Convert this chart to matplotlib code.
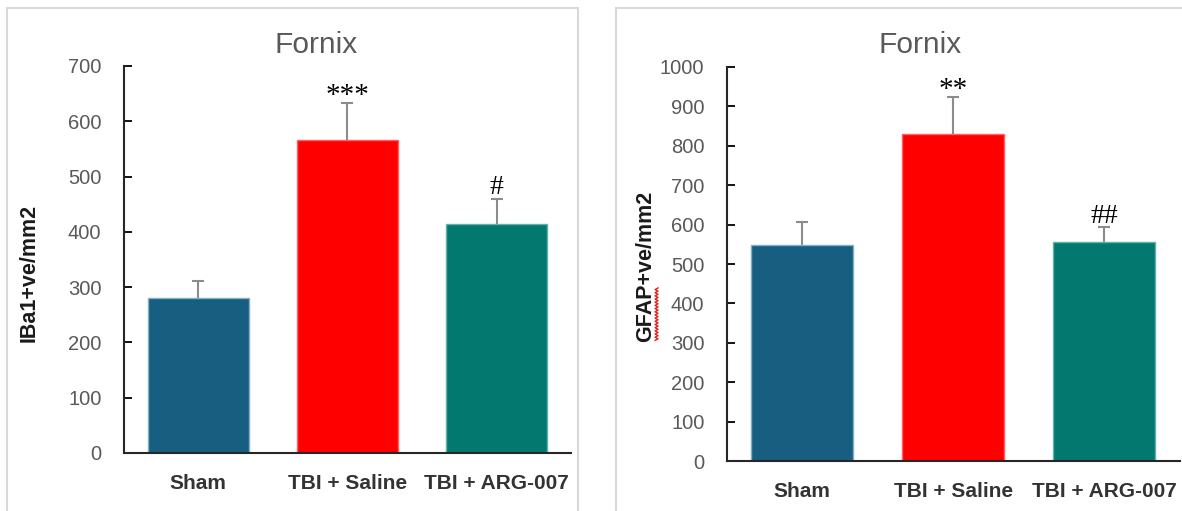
import numpy as np
import matplotlib
matplotlib.use("Agg")
import matplotlib.pyplot as plt
from matplotlib.patches import Rectangle

groups = ["Sham", "TBI + Saline", "TBI + ARG-007"]
bar_colors = ["#175e80", "#ff0000", "#03786e"]
edge_colors = ["#7fb0c8", "#ff6060", "#5fb3aa"]

iba1_mean = [281, 566, 414]
iba1_sem = [30, 67, 46]
iba1_marks = ["", "***", "#"]

gfap_mean = [547, 829, 556]
gfap_sem = [60, 94, 37]
gfap_marks = ["", "**", "##"]

plt.rcParams["font.family"] = ["Liberation Sans", "DejaVu Sans"]

W, H = 1182, 511
fig = plt.figure(figsize=(W / 100, H / 100), dpi=100)


def px_box(x0, y_top, x1, y_bot):
    # pixel box -> figure fraction [left, bottom, width, height]
    return [x0 / W, 1 - y_bot / H, (x1 - x0) / W, (y_bot - y_top) / H]


def draw_panel(ax, means, sems, marks, ymax, ylabel):
    x = np.arange(len(groups))
    ax.bar(x, means, width=0.68, color=bar_colors, edgecolor=edge_colors,
           linewidth=1, zorder=2)
    eb = ax.errorbar(x, means, yerr=[np.zeros(len(means)), sems], fmt="none",
                     ecolor="#8c8c8c", elinewidth=1.5, capsize=4.5,
                     capthick=1.5, zorder=1)
    eb[1][0].set_visible(False)
    for xi, m, s, lab in zip(x, means, sems, marks):
        if not lab:
            continue
        if "*" in lab:
            size, dy = 21, -4
        else:
            size, dy = 20, -1
        ax.annotate(lab, (xi, m + s), xytext=(0, dy), textcoords="offset points",
                    ha="center", va="bottom", fontsize=size,
                    family="Liberation Serif", color="black")
    ax.set_xlim(-0.5, 2.5)
    ax.set_ylim(0, ymax)
    ax.set_yticks(np.arange(0, ymax + 1, 100))
    ax.set_xticks(x)
    ax.set_xticklabels(groups, fontsize=15, fontweight="bold", color="#333333")
    ax.tick_params(axis="x", length=0, pad=15)
    ax.tick_params(axis="y", direction="in", length=6, width=1.3,
                   labelsize=14.5, labelcolor="#595959", pad=16)
    for side in ["top", "right"]:
        ax.spines[side].set_visible(False)
    for side in ["left", "bottom"]:
        ax.spines[side].set_linewidth(1.5)
        ax.spines[side].set_color("#262626")
    ax.set_ylabel(ylabel, fontsize=15.5, fontweight="bold", color="#1a1a1a")


ax1 = fig.add_axes(px_box(123.7, 66, 571.2, 452.8))
draw_panel(ax1, iba1_mean, iba1_sem, iba1_marks, 700, "IBa1+ve/mm2")
ax1.yaxis.set_label_coords(-0.187, 0.466)

ax2 = fig.add_axes(px_box(726.7, 66.7, 1179.5, 461.3))
draw_panel(ax2, gfap_mean, gfap_sem, gfap_marks, 1000, "GFAP+ve/mm2")
ax2.yaxis.set_label_coords(-0.156, 0.493)

fig.text(316 / W, 1 - 45 / H, "Fornix", ha="center", va="center",
         fontsize=21.5, color="#595959")
fig.text(920 / W, 1 - 45 / H, "Fornix", ha="center", va="center",
         fontsize=21.5, color="#595959")

# chart area frames
fig.add_artist(Rectangle((7 / W, -0.05), (578 - 7) / W, 1.05 - 8 / H,
                         transform=fig.transFigure, fill=False,
                         edgecolor="#d9d9d9", linewidth=1.5))
fig.add_artist(Rectangle((615.5 / W, -0.05), 0.6, 1.05 - 8 / H,
                         transform=fig.transFigure, fill=False,
                         edgecolor="#d9d9d9", linewidth=1.5))

# spell-check squiggle under "GFAP"
fig.canvas.draw()
bb = ax2.yaxis.label.get_window_extent()
yy = np.linspace(bb.y0 + 2, bb.y0 + 0.36 * bb.height, 34)
xx = bb.x1 + 0.5 + 1.5 * np.where(np.arange(34) % 2 == 0, -1, 1)
fig.add_artist(plt.Line2D(xx / W, yy / H, transform=fig.transFigure,
                          color="#e02020", linewidth=1.0))

fig.savefig("out.png", dpi=100)
